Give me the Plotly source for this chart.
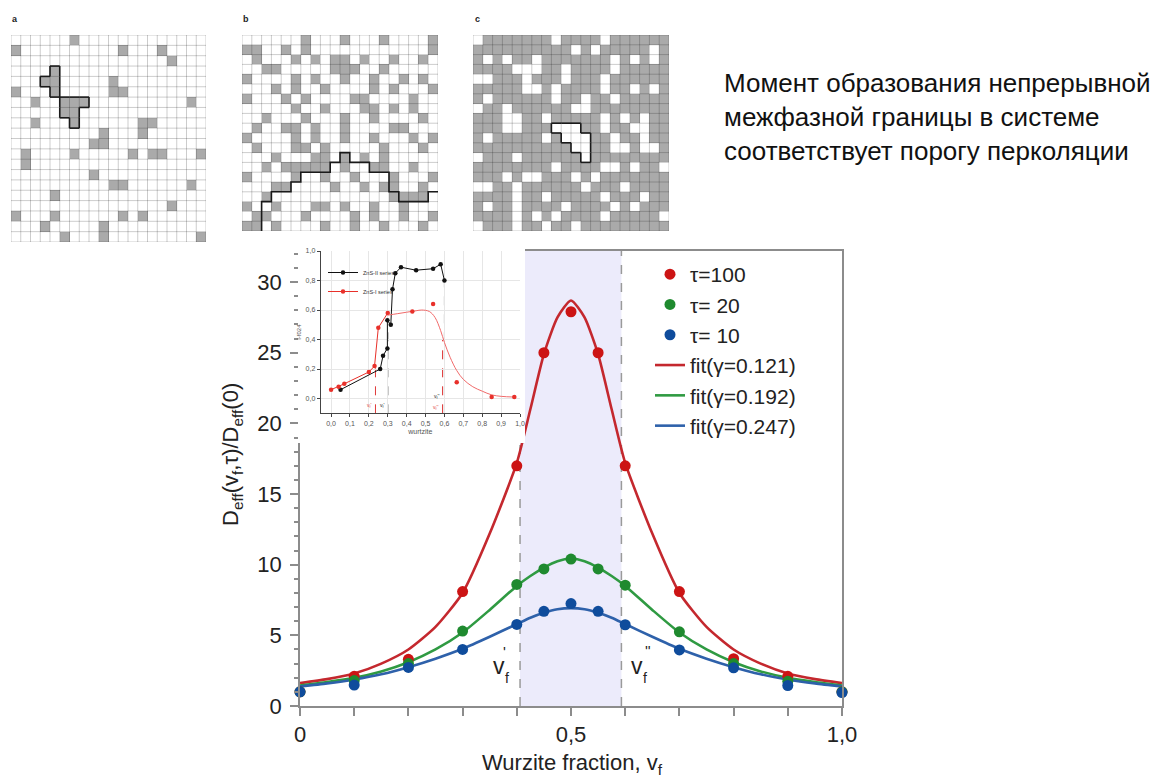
import plotly.graph_objects as go

W, H = 1160, 780
def px(x):
    return x / W
def py(y):
    return 1 - y / H

FONT = "Liberation Sans"

# ---------------- main chart data ----------------
vf_points = [0.0, 0.1, 0.2, 0.3, 0.4, 0.45, 0.5, 0.55, 0.6, 0.7, 0.8, 0.9, 1.0]
d_tau100 = [1.0, 2.1, 3.3, 8.1, 17.0, 25.0, 27.9, 25.0, 17.0, 8.1, 3.35, 2.1, 1.0]
d_tau20 = [1.0, 1.8, 3.0, 5.3, 8.6, 9.7, 10.4, 9.7, 8.55, 5.25, 3.0, 1.75, 1.0]
d_tau10 = [1.0, 1.48, 2.73, 4.0, 5.77, 6.7, 7.25, 6.7, 5.75, 3.97, 2.7, 1.45, 0.95]

vf_fit = [0.0, 0.05, 0.1, 0.15, 0.2, 0.25, 0.3, 0.35, 0.4, 0.425, 0.45, 0.475, 0.5,
          0.525, 0.55, 0.575, 0.6, 0.65, 0.7, 0.75, 0.8, 0.85, 0.9, 0.95, 1.0]
fit_g0121 = [1.62, 1.9, 2.3, 3.0, 4.0, 5.6, 8.0, 12.2, 17.2, 21.0, 24.9, 27.5, 28.7,
             27.5, 24.9, 21.0, 17.2, 12.2, 8.0, 5.6, 4.0, 3.0, 2.3, 1.9, 1.62]
fit_g0192 = [1.45, 1.7, 2.0, 2.45, 3.1, 4.0, 5.2, 6.8, 8.5, 9.2, 9.8, 10.25, 10.42,
             10.25, 9.8, 9.2, 8.5, 6.8, 5.2, 4.0, 3.1, 2.45, 2.0, 1.7, 1.45]
fit_g0247 = [1.38, 1.6, 1.88, 2.25, 2.75, 3.35, 4.05, 4.9, 5.8, 6.25, 6.6, 6.85, 6.93,
             6.85, 6.6, 6.25, 5.8, 4.9, 4.05, 3.35, 2.75, 2.25, 1.88, 1.6, 1.38]

vf_low = 0.406    # v'_f
vf_high = 0.593   # v''_f
y_top = 32.2

x_tickvals = [0.0, 0.5, 1.0]
x_ticktext = ["0", "0,5", "1,0"]

# ---------------- inset data ----------------
zns2_x = [0.05, 0.26, 0.275, 0.298, 0.298, 0.316, 0.325, 0.34, 0.37, 0.45, 0.54, 0.58, 0.60]
zns2_y = [0.06, 0.20, 0.29, 0.34, 0.53, 0.50, 0.74, 0.85, 0.89, 0.87, 0.88, 0.91, 0.80]
zns1_x = [0.0, 0.04, 0.07, 0.20, 0.23, 0.25, 0.30]
zns1_y = [0.06, 0.08, 0.10, 0.18, 0.22, 0.48, 0.58]
zns1_extra_x = [0.43, 0.54, 0.665, 0.85, 0.97]
zns1_extra_y = [0.59, 0.64, 0.11, 0.01, 0.01]
zns1_curve_x = [0.30, 0.35, 0.40, 0.45, 0.48, 0.52, 0.55, 0.58, 0.60, 0.63, 0.665,
                0.70, 0.75, 0.80, 0.85, 0.90, 0.97]
zns1_curve_y = [0.565, 0.575, 0.585, 0.595, 0.60, 0.59, 0.55, 0.46, 0.38, 0.28, 0.19,
                0.13, 0.08, 0.05, 0.025, 0.015, 0.01]
inset_xticks = [0.0, 0.1, 0.2, 0.3, 0.4, 0.5, 0.6, 0.7, 0.8, 0.9, 1.0]
inset_xticktext = ["0,0", "0,1", "0,2", "0,3", "0,4", "0,5", "0,6", "0,7", "0,8", "0,9", "1,0"]
inset_yticks = [0.0, 0.2, 0.4, 0.6, 0.8, 1.0]
inset_yticktext = ["0,0", "0,2", "0,4", "0,6", "0,8", "1,0"]
# threshold markers in the inset: (x, top y, colour)
inset_thresholds = [(0.235, 0.22, "#e03a3a"), (0.30, 0.53, "#222222"),
                    (0.60, 0.80, "#222222"), (0.59, 0.40, "#e03a3a")]

# ---------------- lattice data (20 x 20) ----------------
grid_a_gray = [[6], [0, 11, 15], [16], [4], [3, 4, 10], [0, 4, 10, 11],
               [2, 5, 6, 7, 18], [5, 6], [2, 6, 13, 14], [9, 13], [8, 9],
               [1, 6, 12, 14, 15, 19], [1], [8], [10, 11, 18], [4], [16],
               [0, 4, 11, 13], [3, 9], [5, 9, 19]]
cluster_a = [(3, 4), (4, 3), (4, 4), (5, 4), (6, 5), (6, 6), (6, 7), (7, 5), (7, 6), (8, 6)]

grid_b_gray = [[6, 10, 14, 19], [0, 1, 4, 6, 19], [1, 5, 7, 9, 10, 12, 15, 18],
               [2, 3, 9, 10, 11, 14], [0, 5, 7, 10, 13, 16, 18], [3, 5, 8, 13, 15, 19],
               [0, 4, 6, 11, 12, 17], [5, 8, 12, 13, 15, 17], [2, 6, 10, 13, 18],
               [1, 4, 5, 7, 10, 15, 16], [0, 5, 7, 10, 13, 17, 19], [1, 5, 6, 8, 14, 18],
               [3, 7, 8, 10, 12, 14], [2, 4, 5, 6, 7, 8, 10, 13, 14, 17],
               [0, 5, 8, 11, 15, 19], [3, 4, 9, 12, 14, 15, 18], [2, 15, 16, 17, 18],
               [0, 3, 7, 8, 10, 13, 16], [1, 2, 6, 11, 13, 16, 19],
               [0, 1, 3, 8, 11, 14, 18]]
path_b = [(2, 20), (2, 17), (3, 17), (3, 16), (5, 16), (5, 15), (6, 15), (6, 14),
          (9, 14), (9, 13), (10, 13), (10, 12), (11, 12), (11, 13), (13, 13), (13, 14),
          (15, 14), (15, 16), (16, 16), (16, 17), (19, 17), (19, 16), (20, 16)]

grid_c_white = [[0, 8, 13], [10, 12, 18], [1, 3, 6, 14, 16, 18], [4, 5, 6, 9, 14],
                [0, 1, 5, 9, 13], [5, 6, 8, 13, 16, 18], [1, 8, 11, 14], [0, 3, 10, 11],
                [3, 4, 7, 13, 15, 17], [3, 4, 8, 9, 10, 13, 16, 17],
                [1, 7, 9, 10, 11, 14, 17], [10, 11, 14, 15, 17, 18], [0, 4, 11],
                [8, 13, 14, 16, 19], [3, 5, 6, 10, 12], [0, 1, 4, 11, 15],
                [4, 7, 13, 17], [1, 4, 9, 14, 16], [4, 6, 8, 13, 19], [0, 4, 7, 10]]
cluster_c = [(9, 8), (9, 9), (9, 10), (10, 9), (10, 10), (10, 11), (11, 10), (11, 11), (12, 11)]

N = 20

RED_M, GREEN_M, BLUE_M = "#cc1414", "#1f8a2f", "#0f4c9c"
RED_L, GREEN_L, BLUE_L = "#c4282e", "#2f9a42", "#2e61aa"

fig = go.Figure()

# ---------- main chart ----------
for yv, col, nm, rk in [(fit_g0121, RED_L, "fit(γ=0.121)", 4),
                        (fit_g0192, GREEN_L, "fit(γ=0.192)", 5),
                        (fit_g0247, BLUE_L, "fit(γ=0.247)", 6)]:
    fig.add_trace(go.Scatter(x=vf_fit, y=yv, mode="lines", name=nm, legendrank=rk,
                             line=dict(color=col, width=2.6, shape="spline", smoothing=0.6),
                             cliponaxis=False, hoverinfo="skip"))
for yv, col, nm, rk in [(d_tau100, RED_M, "τ=100", 1),
                        (d_tau20, GREEN_M, "τ= 20", 2),
                        (d_tau10, BLUE_M, "τ= 10", 3)]:
    fig.add_trace(go.Scatter(x=vf_points, y=yv, mode="markers", name=nm, legendrank=rk,
                             marker=dict(color=col, size=11), cliponaxis=False))

# ---------- cover behind the inset (subplot x2y2) ----------
fig.add_trace(go.Scatter(x=[], y=[], xaxis="x2", yaxis="y2", showlegend=False, hoverinfo="skip"))

# ---------- inset (subplot x3y3) ----------
fig.add_trace(go.Scatter(x=zns2_x, y=zns2_y, mode="lines+markers", name="ZnS-II series",
                         line=dict(color="#111111", width=1), marker=dict(color="#111111", size=4.5),
                         xaxis="x3", yaxis="y3", legend="legend2"))
fig.add_trace(go.Scatter(x=zns1_x, y=zns1_y, mode="lines+markers", name="ZnS-I series",
                         line=dict(color="#e8302a", width=1), marker=dict(color="#e8302a", size=4.5),
                         xaxis="x3", yaxis="y3", legend="legend2"))
fig.add_trace(go.Scatter(x=zns1_curve_x, y=zns1_curve_y, mode="lines", showlegend=False,
                         line=dict(color="#f06a6a", width=1, shape="spline"),
                         xaxis="x3", yaxis="y3", hoverinfo="skip"))
fig.add_trace(go.Scatter(x=zns1_extra_x, y=zns1_extra_y, mode="markers", showlegend=False,
                         marker=dict(color="#e8302a", size=4.5), xaxis="x3", yaxis="y3"))

# ---------- lattices ----------
def grid_lines():
    gx, gy = [], []
    for k in range(N + 1):
        v = k - 0.5
        gx += [v, v, None]
        gy += [-0.5, N - 0.5, None]
        gx += [-0.5, N - 0.5, None]
        gy += [v, v, None]
    return gx, gy

def cluster_edges(cells):
    s = set(cells)
    ex, ey = [], []
    for r, c in cells:
        if (r - 1, c) not in s:
            ex += [c - 0.5, c + 0.5, None]; ey += [r - 0.5, r - 0.5, None]
        if (r + 1, c) not in s:
            ex += [c - 0.5, c + 0.5, None]; ey += [r + 0.5, r + 0.5, None]
        if (r, c - 1) not in s:
            ex += [c - 0.5, c - 0.5, None]; ey += [r - 0.5, r + 0.5, None]
        if (r, c + 1) not in s:
            ex += [c + 0.5, c + 0.5, None]; ey += [r - 0.5, r + 0.5, None]
    return ex, ey

z_a = [[1 if c in row else 0 for c in range(N)] for row in grid_a_gray]
z_b = [[1 if c in row else 0 for c in range(N)] for row in grid_b_gray]
z_c = [[0 if c in row else 1 for c in range(N)] for row in grid_c_white]

gx, gy = grid_lines()
for i, (z, outline) in enumerate([(z_a, cluster_edges(cluster_a)),
                                  (z_b, ([p[0] - 0.5 for p in path_b], [p[1] - 0.5 for p in path_b])),
                                  (z_c, cluster_edges(cluster_c))]):
    xa, ya = "x%d" % (4 + i), "y%d" % (4 + i)
    fig.add_trace(go.Heatmap(z=z, x=list(range(N)), y=list(range(N)),
                             colorscale=[[0, "#ffffff"], [1, "#aaaaaa"]], zmin=0, zmax=1,
                             showscale=False, hoverinfo="skip", xaxis=xa, yaxis=ya))
    fig.add_trace(go.Scatter(x=gx, y=gy, mode="lines", line=dict(color="rgba(0,0,0,0.2)", width=1),
                             showlegend=False, hoverinfo="skip", cliponaxis=False, xaxis=xa, yaxis=ya))
    fig.add_trace(go.Scatter(x=outline[0], y=outline[1], mode="lines",
                             line=dict(color="#1a1a1a", width=1.6),
                             showlegend=False, hoverinfo="skip", cliponaxis=False, xaxis=xa, yaxis=ya))

# ---------- shapes ----------
shapes = [
    dict(type="rect", xref="x", yref="y", x0=vf_low, x1=vf_high, y0=0, y1=y_top,
         fillcolor="#ecebfb", line=dict(width=0), layer="below"),
    dict(type="line", xref="x", yref="y", x0=vf_low, x1=vf_low, y0=0, y1=y_top,
         line=dict(color="#9a9a9a", width=1.5, dash="dash"), layer="below"),
    dict(type="line", xref="x", yref="y", x0=vf_high, x1=vf_high, y0=0, y1=y_top,
         line=dict(color="#9a9a9a", width=1.5, dash="dash"), layer="below"),
    dict(type="rect", xref="x2", yref="y2", x0=0, x1=1, y0=0, y1=1,
         fillcolor="#ffffff", line=dict(width=0), layer="below"),
]
for xv, ytop, col in inset_thresholds:
    shapes.append(dict(type="line", xref="x3", yref="y3", x0=xv, x1=xv, y0=-0.1, y1=ytop,
                       line=dict(color=col, width=1, dash="dash"), layer="below"))

# ---------- annotations ----------
ann = []
def txt(x, y, text, size, color="#222", **kw):
    d = dict(x=px(x), y=py(y), xref="paper", yref="paper", text=text, showarrow=False,
             xanchor="center", yanchor="middle",
             font=dict(size=size, color=color, family=FONT))
    d.update(kw)
    ann.append(d)

txt(232, 455, "D<sub>eff</sub>(v<sub>f</sub>,τ)/D<sub>eff</sub>(0)", 22, textangle=-90)
txt(572, 764, "Wurzite fraction, v<sub>f</sub>", 22)
# v'_f and v''_f labels
txt(499, 666, "v", 23)
txt(504, 651, "'", 15)
txt(506.5, 678, "f", 14)
txt(636.5, 666, "v", 23)
txt(648, 650, "''", 15)
txt(645, 678, "f", 14)
# panel letters
txt(15, 19, "<b>a</b>", 9)
txt(246, 19, "<b>b</b>", 9)
txt(477, 19, "<b>c</b>", 9)
# explanatory text
txt(722, 117, "Момент образования непрерывной<br>межфазной границы в системе<br>соответствует порогу перколяции",
    26, color="#111", xanchor="left", yanchor="middle", align="left")
# inset threshold labels
for x, y, t, col in [(0.20, -0.05, "v<sub>f</sub>'", "#e03a3a"), (0.268, -0.045, "v<sub>f</sub>'", "#222"),
                     (0.56, 0.015, "v<sub>f</sub>''", "#222"), (0.555, -0.06, "v<sub>f</sub>''", "#e03a3a")]:
    ann.append(dict(x=x, y=y, xref="x3", yref="y3", text=t, showarrow=False,
                    xanchor="center", yanchor="middle",
                    font=dict(size=5, color=col, family=FONT)))

hidden = dict(visible=False, fixedrange=True)

fig.update_layout(
    width=W, height=H, margin=dict(l=0, r=0, t=0, b=0),
    paper_bgcolor="white", plot_bgcolor="white",
    font=dict(family=FONT, color="#222"),
    showlegend=True,
    xaxis=dict(domain=[px(300), px(842)], range=[0, 1], anchor="y", automargin=False,
               tickmode="array", tickvals=x_tickvals, ticktext=x_ticktext,
               ticks="outside", ticklen=8, tickwidth=1.5, tickcolor="#8c8c8c",
               minor=dict(tickmode="linear", tick0=0, dtick=0.1, ticks="outside", ticklen=8,
                          tickwidth=1.5, tickcolor="#8c8c8c", showgrid=False),
               showline=True, linecolor="#8c8c8c", linewidth=1.5, mirror=True,
               showgrid=False, zeroline=False, ticklabelstandoff=0,
               tickfont=dict(size=22, color="#222", family=FONT)),
    yaxis=dict(domain=[py(706), py(251)], range=[0, y_top], anchor="x", automargin=False,
               tickmode="linear", tick0=0, dtick=5,
               ticks="outside", ticklen=8, tickwidth=1.5, tickcolor="#8c8c8c",
               minor=dict(dtick=1, ticks="outside", ticklen=4, tickcolor="#8c8c8c", showgrid=False),
               showline=True, linecolor="#8c8c8c", linewidth=1.5, mirror=True,
               showgrid=False, zeroline=False, ticklabelstandoff=4,
               tickfont=dict(size=22, color="#222", family=FONT)),
    xaxis2=dict(domain=[px(298), px(525)], range=[0, 1], anchor="y2", **hidden),
    yaxis2=dict(domain=[py(443), py(240)], range=[0, 1], anchor="x2", **hidden),
    xaxis3=dict(domain=[px(320.7), px(520)], range=[-0.055, 1.0], anchor="y3", automargin=False,
                tickmode="array", tickvals=inset_xticks, ticktext=inset_xticktext,
                ticks="outside", ticklen=3, tickcolor="#444", showline=True, linecolor="#444",
                linewidth=1, showgrid=True, gridcolor="#e6e6e6", zeroline=False,
                tickfont=dict(size=7, color="#555", family=FONT),
                title=dict(text="wurtzite", font=dict(size=7, color="#555"), standoff=3)),
    yaxis3=dict(domain=[py(413.3), py(251)], range=[-0.1, 1.0], anchor="x3", automargin=False,
                tickmode="array", tickvals=inset_yticks, ticktext=inset_yticktext,
                ticks="outside", ticklen=3, tickcolor="#444", showline=True, linecolor="#444",
                linewidth=1, showgrid=True, gridcolor="#e6e6e6", zeroline=False,
                tickfont=dict(size=7, color="#555", family=FONT),
                title=dict(text="I-f024", font=dict(size=6, color="#555"), standoff=3)),
    xaxis4=dict(domain=[px(11), px(206)], range=[-0.5, N - 0.5], anchor="y4", **hidden),
    yaxis4=dict(domain=[py(242), py(35)], range=[N - 0.5, -0.5], anchor="x4", **hidden),
    xaxis5=dict(domain=[px(242), px(438)], range=[-0.5, N - 0.5], anchor="y5", **hidden),
    yaxis5=dict(domain=[py(231), py(35)], range=[N - 0.5, -0.5], anchor="x5", **hidden),
    xaxis6=dict(domain=[px(473), px(669)], range=[-0.5, N - 0.5], anchor="y6", **hidden),
    yaxis6=dict(domain=[py(231), py(35)], range=[N - 0.5, -0.5], anchor="x6", **hidden),
    legend=dict(x=px(650), y=py(254), xanchor="left", yanchor="top", traceorder="normal",
                font=dict(size=21, color="#222", family=FONT), bgcolor="rgba(0,0,0,0)",
                borderwidth=0, itemwidth=30),
    legend2=dict(x=px(323), y=py(258), xanchor="left", yanchor="top",
                 font=dict(size=5.5, color="#333", family=FONT), bgcolor="rgba(0,0,0,0)",
                 borderwidth=0, itemwidth=30, tracegroupgap=0),
    shapes=shapes,
    annotations=ann,
)

fig.write_html(
    "out.html",
    config={"displayModeBar": False},
    post_script="document.body.style.margin='0px';document.body.style.padding='0px';"
                "document.documentElement.style.overflow='hidden';",
)
